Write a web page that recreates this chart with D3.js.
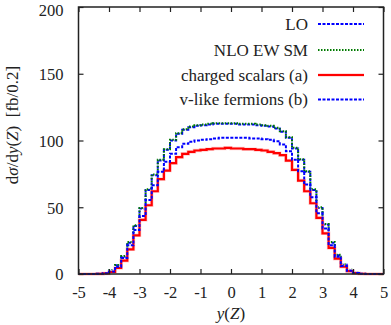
<!DOCTYPE html>
<html>
<head>
<meta charset="utf-8">
<script src="https://cdn.jsdelivr.net/npm/d3@7"></script>
<style>
  body { margin: 0; background: #fff; }
  svg { display: block; }
  text { font-family: "Liberation Serif", "Times New Roman", serif; fill: #222; }
</style>
</head>
<body>
<div id="chart"></div>
<script>
"use strict";

// bin lower edges of y(Z), width 0.2, from -5 to 4.8
const binEdges = d3.range(50).map(i => -5 + i * 0.2);
const binWidth = 0.2;

// LO
const loValues = [0, 0, 0, 0.1, 0.6, 2.5, 6.5, 13, 23.5, 36,
  49, 63, 74, 85, 93, 100, 105, 108, 110, 111,
  111.5, 112, 112.5, 112.5, 112.5, 112.5, 112, 112, 112, 111.5,
  111, 110.5, 109, 106.5, 102, 94, 85.5, 76.5, 63, 49.5,
  37, 23.5, 14, 7, 3, 1, 0.2, 0, 0, 0];

// NLO EW SM
const nloValues = [0, 0, 0, 0.1, 0.6, 2.6, 6.8, 13.5, 24, 36.5,
  49.5, 63.5, 74.5, 85.5, 93.5, 100.5, 105.5, 108.5, 110.5, 111.5,
  112, 112.5, 113, 113, 113, 113, 112.5, 112.5, 112.5, 112,
  111.5, 111, 109.5, 107, 102.5, 94.5, 86, 77, 63.5, 50,
  37.5, 24, 14.5, 7.2, 3.1, 1, 0.2, 0, 0, 0];

// charged scalars (a)
const scalarValues = [0, 0, 0, 0.1, 0.4, 1.5, 4.5, 10, 18.5, 29,
  40.5, 51.5, 62, 71, 77.5, 83, 87.5, 90, 91.5, 92.5,
  93, 93.5, 94, 94, 94.5, 94, 94, 93.5, 93.5, 93,
  92.5, 91.5, 90.5, 89, 85, 78, 70, 62, 53, 42,
  30.5, 19.5, 11.5, 5.5, 2.2, 0.6, 0.2, 0, 0, 0];

// v-like fermions (b)
const fermionValues = [0, 0, 0, 0.1, 0.5, 1.8, 5.5, 12, 21.5, 33,
  43.5, 55.5, 66.5, 76.5, 84, 90, 95, 97.5, 99, 100,
  100.5, 101, 101.5, 102, 102, 102, 102, 102, 101.5, 101.5,
  101, 100.5, 99.5, 97, 92, 85.5, 77, 67, 57.5, 45.5,
  34, 21.5, 13, 6, 2.5, 0.8, 0.2, 0, 0, 0];

const xTicks = [-5, -4, -3, -2, -1, 0, 1, 2, 3, 4, 5];
const yTicks = [0, 50, 100, 150, 200];

const seriesNames = ["LO", "NLO EW SM", "charged scalars (a)", "v-like fermions (b)"];

// global application variable
var App = App || {};

const HistogramChart = function(options) {

  let chart = {};

  /* Set up the svg and the scales */
  function initialize() {
    chart.width = 391;
    chart.height = 325;
    chart.margin = { left: 78.5, right: 7.5, top: 7, bottom: 51 };

    chart.svg = d3.select(options.parent).append("svg")
      .attr("width", chart.width)
      .attr("height", chart.height);

    chart.xScale = d3.scaleLinear().domain([-5, 5])
      .range([chart.margin.left, chart.width - chart.margin.right]);
    chart.yScale = d3.scaleLinear().domain([0, 200])
      .range([chart.height - chart.margin.bottom, chart.margin.top]);
  }

  /* Turn a list of bin values into a step path */
  function step_path(values) {
    let points = values.map((v, i) => [binEdges[i], v]);
    points.push([binEdges[binEdges.length - 1] + binWidth, values[values.length - 1]]);
    return d3.line()
      .x(d => chart.xScale(d[0]))
      .y(d => chart.yScale(d[1]))
      .curve(d3.curveStepAfter)(points);
  }

  /* Render the four histograms */
  function render_series() {
    let g = chart.svg.append("g").attr("class", "series");

    options.series.forEach(s => {
      if (s.halo) {
        g.append("path").attr("d", step_path(s.values))
          .attr("fill", "none").attr("stroke", s.halo).attr("stroke-width", 3.6);
      }
      g.append("path").attr("d", step_path(s.values))
        .attr("fill", "none")
        .attr("stroke", s.color)
        .attr("stroke-width", s.width)
        .attr("stroke-dasharray", s.dash);
    });
  }

  /* Frame, inward ticks on every side and the tick labels */
  function render_axes() {
    let x0 = chart.xScale.range()[0], x1 = chart.xScale.range()[1],
        y0 = chart.yScale.range()[0], y1 = chart.yScale.range()[1];
    let tick = 5;

    let bottom = chart.svg.append("g").attr("transform", `translate(0,${y0})`)
      .call(d3.axisBottom(chart.xScale).tickValues(xTicks).tickSize(-tick).tickPadding(12)
        .tickFormat(d => String(d)));
    let top = chart.svg.append("g").attr("transform", `translate(0,${y1})`)
      .call(d3.axisTop(chart.xScale).tickValues(xTicks).tickSize(-tick).tickFormat(""));
    let left = chart.svg.append("g").attr("transform", `translate(${x0},0)`)
      .call(d3.axisLeft(chart.yScale).tickValues(yTicks).tickSize(-tick).tickPadding(15));
    let right = chart.svg.append("g").attr("transform", `translate(${x1},0)`)
      .call(d3.axisRight(chart.yScale).tickValues(yTicks).tickSize(-tick).tickFormat(""));

    [bottom, top, left, right].forEach(a => {
      a.select(".domain").remove();
      a.selectAll("line").attr("stroke", "#222").attr("stroke-width", 1.2);
      a.selectAll("text").attr("font-size", 16.5)
        .attr("font-family", "Liberation Serif").attr("fill", "#222");
    });
    bottom.selectAll("text").attr("dy", "0.71em");
    // the top label sits against the page edge, nudge it down a touch
    left.selectAll("text").attr("dy", d => d === 200 ? "0.5em" : "0.36em");

    chart.svg.append("rect")
      .attr("x", x0).attr("y", y1)
      .attr("width", x1 - x0).attr("height", y0 - y1)
      .attr("fill", "none").attr("stroke", "#222").attr("stroke-width", 1.5);
  }

  /* Axis titles */
  function render_labels() {
    let xl = chart.svg.append("text")
      .attr("x", (chart.xScale(-5) + chart.xScale(5)) / 2)
      .attr("y", 319)
      .attr("text-anchor", "middle")
      .attr("font-size", 17);
    xl.append("tspan").attr("font-style", "italic").text("y");
    xl.append("tspan").text("(");
    xl.append("tspan").attr("font-style", "italic").text("Z");
    xl.append("tspan").text(")");

    let yl = chart.svg.append("text")
      .attr("transform", "translate(18,125) rotate(-90)")
      .attr("text-anchor", "middle")
      .attr("font-size", 17);
    yl.append("tspan").text("d");
    yl.append("tspan").attr("font-style", "italic").text("σ");
    yl.append("tspan").text("/d");
    yl.append("tspan").attr("font-style", "italic").text("y");
    yl.append("tspan").text("(");
    yl.append("tspan").attr("font-style", "italic").text("Z");
    yl.append("tspan").text(")\u00a0\u00a0[fb/0.2]");
  }

  /* Legend in the upper right corner */
  function render_legend() {
    let g = chart.svg.append("g").attr("class", "legend");
    let rows = [24, 50, 75, 99.5];

    options.series.forEach((s, i) => {
      g.append("text")
        .attr("x", 308).attr("y", rows[i] + 5.5)
        .attr("text-anchor", "end")
        .attr("font-size", 17)
        .text(s.name);
      if (s.halo) {
        g.append("line").attr("x1", 318).attr("x2", 364)
          .attr("y1", rows[i]).attr("y2", rows[i])
          .attr("stroke", s.halo).attr("stroke-width", 3.6);
      }
      g.append("line").attr("x1", 318).attr("x2", 364)
        .attr("y1", rows[i]).attr("y2", rows[i])
        .attr("stroke", s.color).attr("stroke-width", s.width)
        .attr("stroke-dasharray", s.dash);
    });
  }

  initialize();
  render_series();
  render_axes();
  render_labels();
  render_legend();

  return chart;
};

App.chart = HistogramChart({
  parent: "#chart",
  series: [
    { name: seriesNames[0], values: loValues, color: "#0000ff", width: 2, dash: "3,1.5" },
    { name: seriesNames[1], values: nloValues, color: "#007a00", width: 2, dash: "1.5,1.5" },
    { name: seriesNames[2], values: scalarValues, color: "#ff0000", width: 2.2, dash: null, halo: "#ffd2d2" },
    { name: seriesNames[3], values: fermionValues, color: "#0000ff", width: 2, dash: "3,1.5" }
  ]
});
</script>
</body>
</html>
